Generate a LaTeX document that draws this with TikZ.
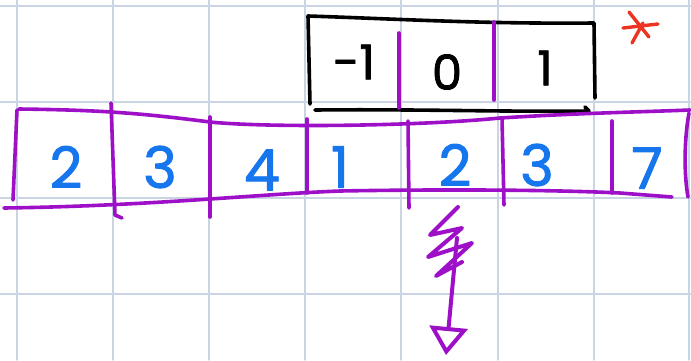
\documentclass[tikz,border=0pt]{standalone}
\usepackage{fontspec}
\setmainfont{Poppins}
\newfontfamily\penfont{Poppins}[FakeBold=1.6]
\usepackage{xcolor}
\usepackage{tikz}
\usetikzlibrary{arrows.meta}

\definecolor{penpurple}{RGB}{158,16,200}
\definecolor{penblue}{RGB}{22,118,238}
\definecolor{penred}{RGB}{236,52,34}
\definecolor{gridline}{RGB}{202,213,228}

\begin{document}
\begin{tikzpicture}[x=1pt,y=-1pt,line width=3.6pt,line cap=round,line join=round,
    cellnum/.style={penblue,font=\penfont\fontsize{57}{57}\selectfont,inner sep=0pt},
    winnum/.style={black,font=\penfont\fontsize{48}{48}\selectfont,inner sep=0pt}]
    \useasboundingbox (0,0) rectangle (691,360);
    \fill[white] (0,0) rectangle (691,360);
    % squared paper
    \foreach \gx in {17,113,209,305,401,498,594,689}
      \draw[gridline,line width=1.4pt] (\gx,0) -- (\gx,360);
    \foreach \gy in {6,102,198,294}
      \draw[gridline,line width=1.4pt] (0,\gy) -- (691,\gy);
    % window of three
    \draw[black] (310,104) -- (308,16) .. controls (400,19) and (480,24) .. (594,23) -- (595,98);
    \draw[black] (315,110) .. controls (420,109) and (500,112) .. (589,111) -- (585,107);
    \draw[penpurple] (399,33) -- (399,108);
    \draw[penpurple] (494,22) -- (494,100);
    \node[winnum] (wa) at (354,62) {-1};
    \node[winnum] (wb) at (447,72) {0};
    \node[winnum] (wc) at (545,68) {1};
    % red mark
    \draw[penred,line width=3.4pt] (629,12) -- (649,37) (623,28) -- (658,24) (643,23) -- (632,43);
    % array cells
    \draw[penpurple] (19,109) .. controls (100,110) and (140,113) .. (210,122)
      .. controls (270,128) and (420,126) .. (500,118) .. controls (580,113) and (640,112) .. (690,110);
    \draw[penpurple] (4,208) .. controls (150,206) and (260,194) .. (340,191)
      .. controls (450,189) and (560,190) .. (620,193) -- (672,197);
    \draw[penpurple] (17,110) -- (13,200);
    \draw[penpurple] (111,103) -- (115,215) -- (122,218);
    \draw[penpurple] (210,117) -- (210,217);
    \draw[penpurple] (307,119) -- (307,193);
    \draw[penpurple] (408,121) -- (409,208);
    \draw[penpurple] (502,118) -- (504,205);
    \draw[penpurple] (612,121) -- (612,193);
    \draw[penpurple] (689,113) .. controls (684,140) and (684,175) .. (688,197);
    \node[cellnum] (ca) at (66,167) {2};
    \node[cellnum] (cb) at (160,167) {3};
    \node[cellnum] (cc) at (262,170) {4};
    \node[cellnum] (cd) at (340,167) {1};
    \node[cellnum] (ce) at (455,165) {2};
    \node[cellnum] (cf) at (537,165) {3};
    \node[cellnum] (cg) at (647,168) {7};
    % downward arrow
    \coordinate (aroot) at (457,238);
    \coordinate (atip) at (446,355);
    \draw[penpurple,line width=4pt] (458,207) -- (430,235) -- (462,228) -- (428,257)
      -- (472,243) -- (436,276) -- (462,262);
    \draw[penpurple,line width=4pt,-{Triangle[open,length=28pt,width=38pt]}] (aroot) -- (atip);
  \end{tikzpicture}
\end{document}
